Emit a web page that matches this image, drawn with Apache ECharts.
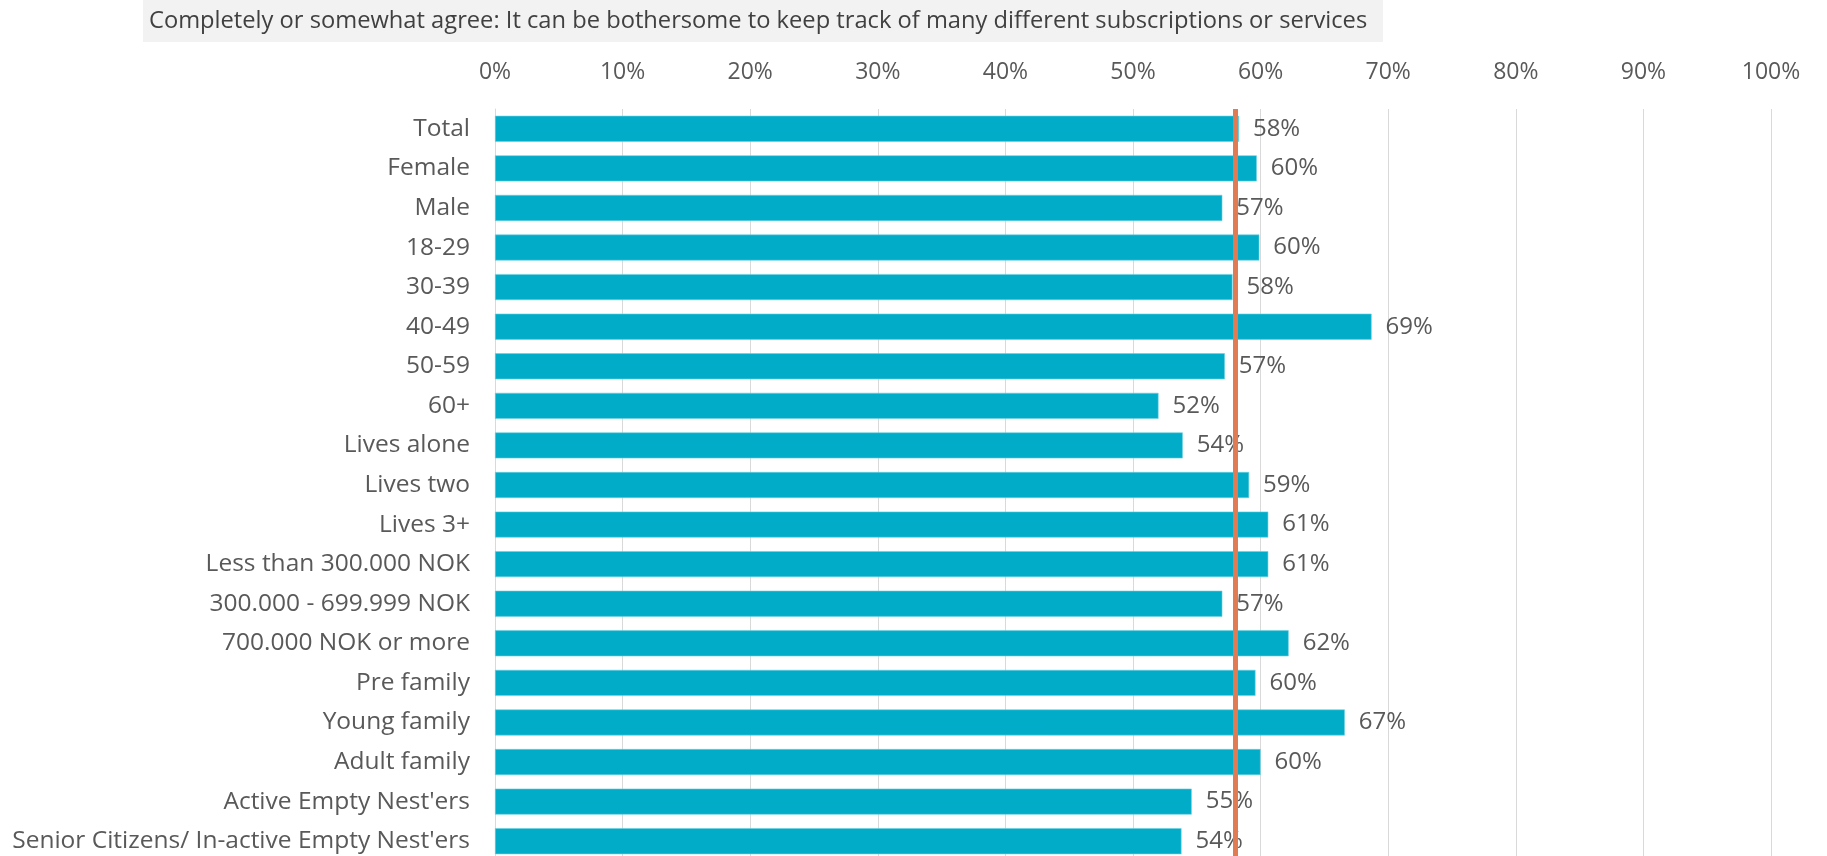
<!DOCTYPE html>
<html>
<head>
<meta charset="utf-8">
<script src="https://cdn.jsdelivr.net/npm/echarts@6/dist/echarts.min.js"></script>
<style>
  html, body { margin: 0; padding: 0; background: #ffffff; }
  #chart { width: 1827px; height: 856px; }
</style>
</head>
<body>
<div id="chart"></div>
<script>
// Share who completely or somewhat agree, by segment (percent)
const titleText = 'Completely or somewhat agree: It can be bothersome to keep track of many different subscriptions or services';

const categories = [
  'Total', 'Female', 'Male', '18-29', '30-39', '40-49', '50-59', '60+',
  'Lives alone', 'Lives two', 'Lives 3+',
  'Less than 300.000 NOK', '300.000 - 699.999 NOK', '700.000 NOK or more',
  'Pre family', 'Young family', 'Adult family',
  "Active Empty Nest'ers", "Senior Citizens/ In-active Empty Nest'ers"
];

const agreeShare = [
  58.3, 59.7, 57.0, 59.9, 57.8, 68.7, 57.2, 52.0,
  53.9, 59.1, 60.6,
  60.6, 57.0, 62.2,
  59.6, 66.6, 60.0,
  54.6, 53.8
];

// Reference line for the total sample
const totalLine = 58;

// Axis ticks (percent)
const axisMin = 0;
const axisMax = 100;
const axisStep = 10;

const labelFont = '"Open Sans", "Liberation Sans", sans-serif';
const textGray = '#595959';

const chart = echarts.init(document.getElementById('chart'), null, { renderer: 'canvas' });

chart.setOption({
  animation: false,
  backgroundColor: '#ffffff',
  graphic: [
    {
      type: 'rect',
      left: 143, top: 0,
      shape: { width: 1240, height: 42 },
      style: { fill: '#f2f2f2' },
      silent: true
    },
    {
      type: 'text',
      left: 149, top: 9,
      style: {
        text: titleText,
        font: '23.7px ' + labelFont,
        fill: '#404040'
      },
      silent: true
    }
  ],
  // the plot runs a few pixels past the lower edge of the canvas
  grid: {
    left: 495, right: 56, top: 109, height: 752,
    containLabel: false,
    outerBoundsMode: 'none'
  },
  xAxis: {
    type: 'value',
    position: 'top',
    min: axisMin,
    max: axisMax,
    interval: axisStep,
    axisLine: { show: false },
    axisTick: { show: false },
    axisLabel: {
      formatter: '{value}%',
      color: textGray,
      fontFamily: labelFont,
      fontSize: 23,
      margin: 25
    },
    splitLine: { show: true, lineStyle: { color: '#d9d9d9', width: 1 } }
  },
  yAxis: {
    type: 'category',
    data: categories,
    inverse: true,
    axisLine: { show: true, lineStyle: { color: '#d9d9d9', width: 1 } },
    axisTick: { show: false },
    axisLabel: {
      color: textGray,
      fontFamily: labelFont,
      fontSize: 24.5,
      margin: 25
    }
  },
  series: [
    {
      type: 'bar',
      data: agreeShare,
      barWidth: 26,
      itemStyle: { color: '#00acc8', borderColor: '#6cd0e0', borderWidth: 0.6 },
      label: {
        show: true,
        position: 'right',
        distance: 14,
        formatter: p => Math.round(p.value) + '%',
        color: textGray,
        fontFamily: labelFont,
        fontSize: 24
      },
      markLine: {
        silent: true,
        symbol: ['none', 'none'],
        label: { show: false },
        lineStyle: { color: '#e07b53', width: 5, type: 'solid' },
        data: [{ xAxis: totalLine }]
      },
      z: 2
    }
  ]
});
</script>
</body>
</html>
